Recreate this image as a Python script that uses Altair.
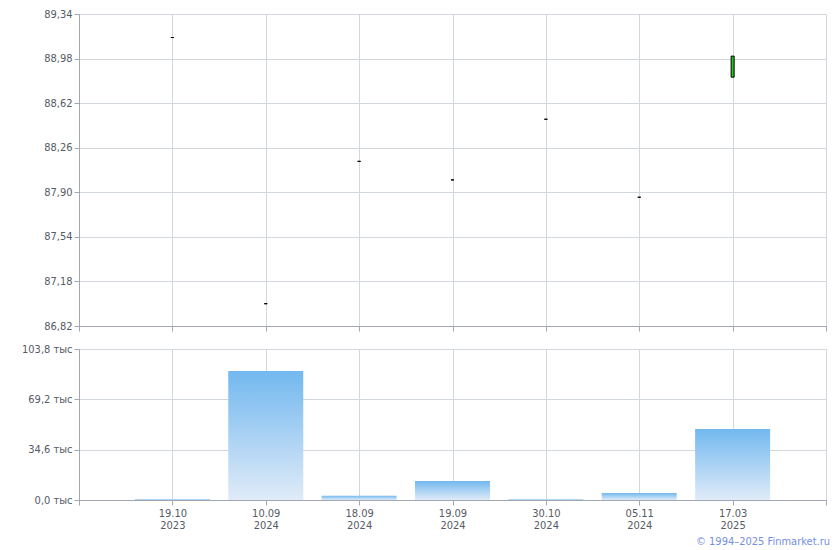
import json
import altair as alt
import pandas as pd

# ---- data ----
dates = ["19.10", "10.09", "18.09", "19.09", "30.10", "05.11", "17.03"]
years = ["2023", "2024", "2024", "2024", "2024", "2024", "2025"]
opens = [89.15, 87.00, 88.15, 88.00, 88.49, 87.86, 88.83]
highs = [89.15, 87.00, 88.15, 88.00, 88.49, 87.86, 89.00]
lows = [89.15, 87.00, 88.15, 88.00, 88.49, 87.86, 88.83]
closes = [89.15, 87.00, 88.15, 88.00, 88.49, 87.86, 89.00]
volumes_k = [0.7, 88.7, 3.0, 13.1, 0.5, 4.8, 48.8]  # thousands

price_ticks = [86.82, 87.18, 87.54, 87.90, 88.26, 88.62, 88.98, 89.34]
volume_ticks = [0.0, 34.6, 69.2, 103.8]
copyright_text = "© 1994–2025 Finmarket.ru"

n = len(dates)
df = pd.DataFrame({
    "idx": list(range(1, n + 1)),
    "date": dates,
    "open": opens,
    "high": highs,
    "low": lows,
    "close": closes,
    "vol": volumes_k,
})
df["dir"] = ["up" if c > o else ("down" if c < o else "flat") for o, c in zip(opens, closes)]

FONT = "DejaVu Sans Condensed, DejaVu Sans"
LABEL_COLOR = "#555b66"
GRID = "#d3d8de"
DOMAIN = "#a3a7b4"
W = 747

pairs = [[d, y] for d, y in zip(dates, years)]
x_label_expr = f"datum.value >= 1 && datum.value <= {n} ? {json.dumps(pairs)}[datum.value - 1] : ''"
x_ticks = list(range(0, n + 2))

x_scale = alt.Scale(domain=[0, n + 1], nice=False, zero=False, padding=0)

top_x = alt.X("idx:Q", scale=x_scale, title=None,
              axis=alt.Axis(values=x_ticks, labels=False, tickSize=5, grid=True,
                            gridColor=GRID, domainColor=DOMAIN, tickColor=DOMAIN))
top_y_axis = alt.Axis(values=price_ticks, title=None, tickSize=5, labelPadding=2,
                      labelExpr="replace(format(datum.value, '.2f'), '.', ',')",
                      gridColor=GRID, domainColor=DOMAIN, tickColor=DOMAIN,
                      minExtent=71, maxExtent=71)
price_scale = alt.Scale(domain=[price_ticks[0], price_ticks[-1]], nice=False, zero=False,
                        padding=0)

wick = alt.Chart(df).mark_rule(color="black", strokeWidth=1).encode(
    x=top_x,
    y=alt.Y("low:Q", scale=price_scale, axis=top_y_axis),
    y2="high:Q",
)
body = alt.Chart(df).mark_bar(size=3, stroke="black", strokeWidth=1).encode(
    x=alt.X("idx:Q", scale=x_scale),
    y=alt.Y("open:Q", scale=price_scale),
    y2="close:Q",
    fill=alt.Fill("dir:N", scale=alt.Scale(domain=["up", "down", "flat"],
                                           range=["#22c322", "#e02020", "black"]),
                  legend=None),
)
top = alt.layer(wick, body).properties(width=W, height=312)

bot_x = alt.X("idx:Q", scale=x_scale, title=None,
              axis=alt.Axis(values=x_ticks, labelExpr=x_label_expr, tickSize=5,
                            labelPadding=2, labelLineHeight=12, grid=True,
                            gridColor=GRID, domainColor=DOMAIN, tickColor=DOMAIN))
vol_axis = alt.Axis(values=volume_ticks, title=None, tickSize=5, labelPadding=2,
                    labelExpr="replace(format(datum.value, '.1f'), '.', ',') + ' тыс'",
                    gridColor=GRID, domainColor=DOMAIN, tickColor=DOMAIN,
                    minExtent=71, maxExtent=71)

grad = alt.Gradient(
    gradient="linear",
    stops=[alt.GradientStop(color="#e0ebf8", offset=0),
           alt.GradientStop(color="#72b8ef", offset=1)],
    x1=1, x2=1, y1=1, y2=0,
)
bars = alt.Chart(df).mark_bar(size=75, color=grad).encode(
    x=bot_x,
    y=alt.Y("vol:Q", scale=alt.Scale(domain=[volume_ticks[0], volume_ticks[-1]], nice=False,
                                     padding=0),
            axis=vol_axis),
)
copy = alt.Chart(pd.DataFrame({"t": [copyright_text]})).mark_text(
    align="right", baseline="middle", font=FONT, fontSize=11, color="#7590df"
).encode(text="t:N", x=alt.value(751), y=alt.value(193))

bottom = alt.layer(bars, copy).properties(width=W, height=151)

chart = alt.vconcat(top, bottom, spacing=11).properties(padding=0).configure_view(
    stroke=None
).configure_axis(
    labelFont=FONT, labelFontSize=11, labelColor=LABEL_COLOR
)

chart.save("out.html", embed_options={"renderer": "svg", "actions": False})
